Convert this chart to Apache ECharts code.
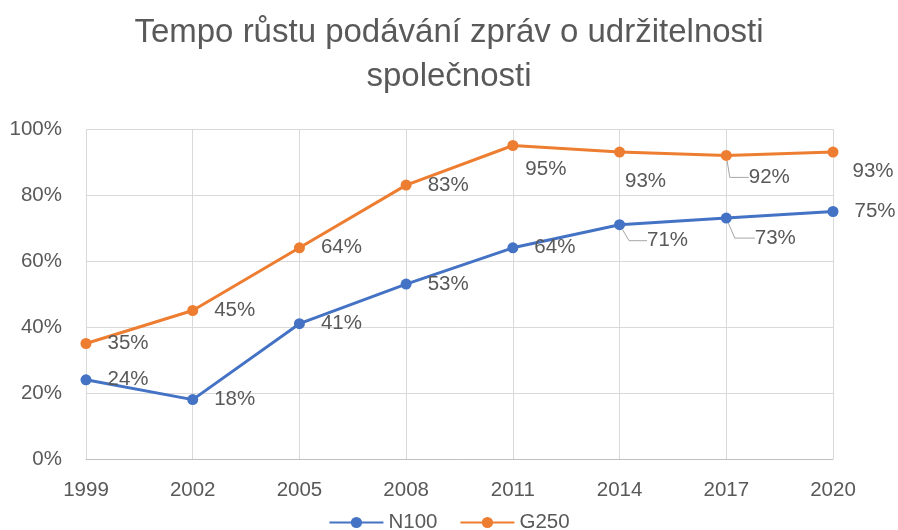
<!DOCTYPE html>
<html>
<head>
<meta charset="utf-8">
<script src="https://cdn.jsdelivr.net/npm/echarts@6/dist/echarts.min.js"></script>
<style>
html,body{margin:0;padding:0;background:#fff;}
#chart{width:898px;height:530px;}
</style>
</head>
<body>
<div id="chart"></div>
<script>
const titleText = 'Tempo růstu podávání zpráv o udržitelnosti\nspolečnosti';
const years = ['1999', '2002', '2005', '2008', '2011', '2014', '2017', '2020'];
const n100 = [24, 18, 41, 53, 64, 71, 73, 75];
const g250 = [35, 45, 64, 83, 95, 93, 92, 93];
const yTicks = [0, 20, 40, 60, 80, 100];

// label nudges [dx, dy, leader-line length or 0] per series / point
const labelMoves = {
  0: {5: [6, 16, 18], 6: [7, 20, 20]},
  1: {4: [-9, 24, 0], 5: [-16, 29, 0], 6: [1, 22, 19], 7: [-2, 19, 0]}
};

const FONT = 'Liberation Sans';
const TXT = '#595959';
const GRID = '#d9d9d9';
const FS = 20.5;

function mkData(vals, si) {
  return vals.map((v, i) => {
    const m = labelMoves[si][i];
    const item = {value: v};
    if (m && m[2]) {
      item.labelLine = {show: true, length2: m[2]};
    }
    return item;
  });
}

const chart = echarts.init(document.getElementById('chart'), null, {renderer: 'canvas'});
const seriesBase = (name, vals, color, si) => ({
  name: name,
  type: 'line',
  data: mkData(vals, si),
  symbol: 'circle',
  symbolSize: 11,
  lineStyle: {color: color, width: 3},
  itemStyle: {color: color},
  label: {
    show: true,
    position: 'right',
    distance: 16,
    formatter: p => p.value + '%',
    color: TXT,
    fontFamily: FONT,
    fontSize: FS
  },
  labelLine: {show: false, lineStyle: {color: '#a6a6a6', width: 1}},
  labelLayout: function (params) {
    const m = labelMoves[si][params.dataIndex];
    if (!m) return {};
    return {dx: m[0], dy: m[1]};
  },
  emphasis: {disabled: true},
  animation: false
});

chart.setOption({
  backgroundColor: '#ffffff',
  animation: false,
  title: {
    text: titleText,
    left: 'center',
    top: 6,
    textStyle: {
      fontFamily: FONT,
      fontSize: 33,
      fontWeight: 'normal',
      color: TXT,
      lineHeight: 44
    }
  },
  legend: {
    top: 507,
    left: 'center',
    itemWidth: 54,
    itemHeight: 14,
    itemGap: 22,
    textStyle: {fontFamily: FONT, fontSize: FS, color: TXT},
    data: ['N100', 'G250']
  },
  grid: {left: 86, right: 65, top: 129, bottom: 71, containLabel: false},
  xAxis: {
    type: 'category',
    data: years,
    boundaryGap: false,
    axisLine: {lineStyle: {color: '#bfbfbf', width: 1}},
    axisTick: {show: false},
    axisLabel: {color: TXT, fontFamily: FONT, fontSize: FS, margin: 21},
    splitLine: {show: true, lineStyle: {color: GRID, width: 1}}
  },
  yAxis: {
    type: 'value',
    min: yTicks[0],
    max: yTicks[yTicks.length - 1],
    interval: 20,
    axisLine: {show: false},
    axisTick: {show: false},
    axisLabel: {color: TXT, fontFamily: FONT, fontSize: FS, margin: 24, formatter: '{value}%'},
    splitLine: {show: true, lineStyle: {color: GRID, width: 1}}
  },
  series: [
    seriesBase('N100', n100, '#4472C4', 0),
    seriesBase('G250', g250, '#ED7D31', 1)
  ]
});
</script>
</body>
</html>
